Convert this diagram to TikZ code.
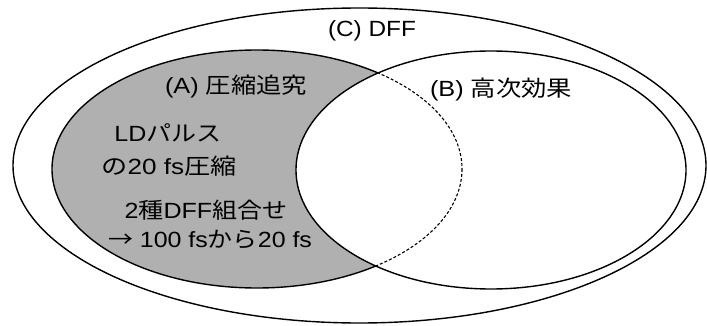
\documentclass[tikz,border=0pt]{standalone}
\usepackage{fontspec}
\setmainfont{Liberation Sans}
\newfontfamily\jp{Noto Sans CJK JP}
\usepackage{graphicx}
\newcommand{\stx}[2]{\resizebox{#1pt}{\height}{#2}}
\begin{document}
\begin{tikzpicture}[x=1pt,y=-1pt,
  ring/.style={line width=1.4pt, draw=black},
  dashring/.style={line width=1.1pt, draw=black, dash pattern=on 3pt off 2pt},
  lbl/.style={inner sep=0pt, anchor=center, font=\fontsize{22}{24}\selectfont, text=black}]
\useasboundingbox (0,0) rectangle (707,326);
\fill[white] (0,0) rectangle (707,326);
% outer C
\path[ring] (359.5,165.5) ellipse [x radius=346.5, y radius=157.5];
% A fill
\fill[black!31] (257,169) ellipse [x radius=205, y radius=119];
% B fill white
\fill[white] (491,170) ellipse [x radius=195, y radius=119];
% A boundary inside B: dashed
\begin{scope}
  \clip (491,170) ellipse [x radius=195, y radius=119];
  \path[dashring] (257,169) ellipse [x radius=205, y radius=119];
\end{scope}
% A boundary outside B: solid
\begin{scope}[even odd rule]
  \clip (0,0) rectangle (707,326) (491,170) ellipse [x radius=195, y radius=119];
  \path[ring] (257,169) ellipse [x radius=205, y radius=119];
\end{scope}
% B boundary
\path[ring] (491,170) ellipse [x radius=195, y radius=119];
% labels
\node[lbl] (c) at (372,31) {\stx{88}{(C) DFF}};
\node[lbl] (a) at (236,87) {\stx{142}{(A) {\jp 圧縮追究}}};
\node[lbl] (b) at (501,90) {\stx{142}{(B) {\jp 高次効果}}};
\node[lbl] (t1) at (168,133) {\stx{107}{LD{\jp パルス}}};
\node[lbl] (t2) at (169,166) {\stx{135}{{\jp の}20 fs{\jp 圧縮}}};
\node[lbl] (t3) at (206,210) {\stx{163}{2{\jp 種}DFF{\jp 組合せ}}};
\node[lbl] (t4) at (210,240) {\stx{204}{{\jp →} 100 fs{\jp から}20 fs}};
\end{tikzpicture}
\end{document}
